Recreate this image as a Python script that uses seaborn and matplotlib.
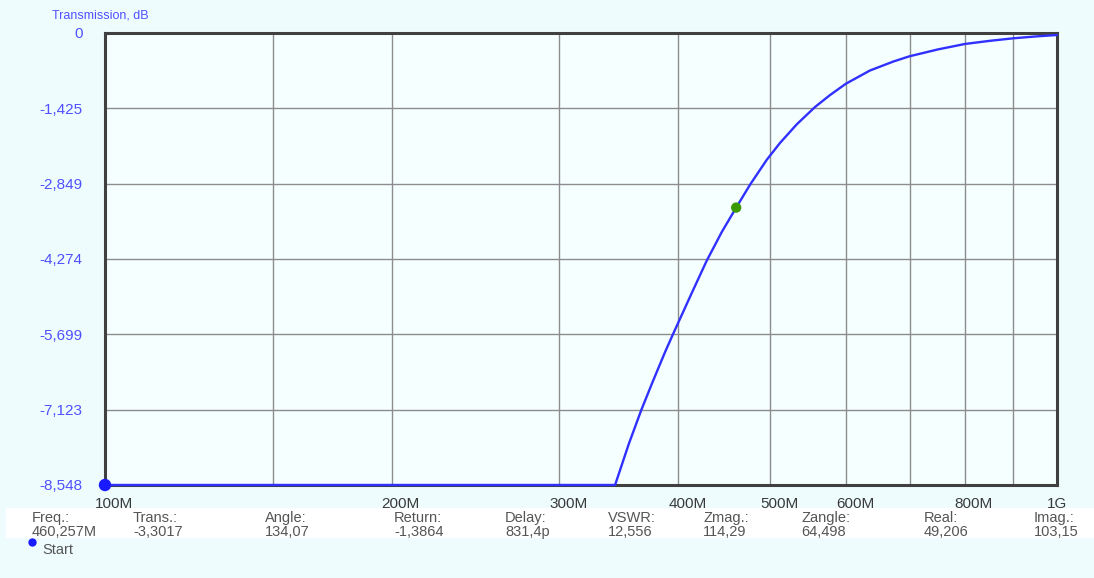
import numpy as np
import pandas as pd
import matplotlib
matplotlib.use("Agg")
import matplotlib.pyplot as plt
import matplotlib.transforms as mtransforms
from matplotlib.patches import Rectangle
from matplotlib.lines import Line2D
from matplotlib.ticker import FixedLocator, FixedFormatter, NullLocator
import seaborn as sns

# Transmission sweep (frequency in MHz, transmission in dB, floored at the lower plot limit)
freq_mhz = [100, 343.4, 355, 366, 376, 387.6, 395.4, 413.3, 428.5, 444.3,
            460.257, 475.9, 495.5, 511.7, 532.7, 556.9, 577.4, 600, 636, 673,
            700, 750, 800, 850, 900, 950, 1000]
trans_db = [-8.548, -8.548, -7.77, -7.123, -6.60, -6.03, -5.68, -4.92, -4.31,
            -3.77, -3.3017, -2.87, -2.40, -2.08, -1.73, -1.40, -1.175, -0.96,
            -0.71, -0.54, -0.44, -0.31, -0.208, -0.148, -0.10, -0.065, -0.038]

# Cursor position
marker_freq = 460.257
marker_trans = -3.3017

# Axis ticks
y_ticks = [0, -1.425, -2.849, -4.274, -5.699, -7.123, -8.548]
x_grid = [100, 150, 200, 300, 400, 500, 600, 700, 800, 900, 1000]
x_labels = ["100M", "", "200M", "300M", "400M", "500M", "600M", "", "800M", "", "1G"]

# Cursor readout
readout_names = ["Freq.:", "Trans.:", "Angle:", "Return:", "Delay:", "VSWR:",
                 "Zmag.:", "Zangle:", "Real:", "Imag.:"]
readout_values = ["460,257M", "-3,3017", "134,07", "-1,3864", "831,4p", "12,556",
                  "114,29", "64,498", "49,206", "103,15"]
readout_x = [32, 133, 265, 394, 505, 608, 703, 801, 924, 1034]

BG = "#eefcfd"
PLOT_BG = "#f6ffff"
BLUE_TXT = "#5050ff"
CURVE = "#3030ff"

sns.set_theme(style="white")
plt.rcParams["font.family"] = ["Liberation Sans", "DejaVu Sans"]

W, H = 1094, 578
fig = plt.figure(figsize=(W / 100, H / 100), dpi=100, facecolor=BG)
ax = fig.add_axes([105 / W, 1 - 485 / H, (1057 - 105) / W, (485 - 33) / H])
ax.set_facecolor(PLOT_BG)

df = pd.DataFrame({"freq": freq_mhz, "trans": trans_db})
sns.lineplot(data=df, x="freq", y="trans", ax=ax, color=CURVE, linewidth=1.7,
             zorder=4, clip_on=False)
sns.scatterplot(x=[marker_freq], y=[marker_trans], ax=ax, color="#3a9a00",
                s=55, edgecolor="none", zorder=5)
sns.scatterplot(x=[freq_mhz[0]], y=[trans_db[0]], ax=ax, color="#1a1aff",
                s=80, edgecolor="none", zorder=6, clip_on=False)

ax.set_xscale("log")
ax.set_xlim(100, 1000)
ax.set_ylim(y_ticks[-1], y_ticks[0])
ax.xaxis.set_major_locator(FixedLocator(x_grid))
ax.xaxis.set_major_formatter(FixedFormatter(x_labels))
ax.xaxis.set_minor_locator(NullLocator())
ax.set_yticks(y_ticks)
ax.set_yticklabels(["0" if v == 0 else f"{v:.3f}".replace(".", ",") for v in y_ticks])
ax.set_xlabel("")
ax.set_ylabel("")

ax.grid(True, color="#8c8c8c", linewidth=1)
ax.set_axisbelow(True)
ax.tick_params(axis="x", length=0, pad=9, labelsize=11, labelcolor="#3a3a3a")
ax.tick_params(axis="y", length=0, pad=16, labelsize=11, labelcolor=BLUE_TXT)

offset = mtransforms.ScaledTranslation(-10 / 100, 0, fig.dpi_scale_trans)
for lbl in ax.get_xticklabels():
    lbl.set_horizontalalignment("left")
    lbl.set_transform(lbl.get_transform() + offset)

for s in ax.spines.values():
    s.set_visible(True)
    s.set_color("#404040")
    s.set_linewidth(2.2)

fig.text(52 / W, 1 - 18 / H, "Transmission, dB", color=BLUE_TXT, fontsize=9,
         va="baseline")

# Readout band
fig.add_artist(Rectangle((6 / W, 1 - 538 / H), 1, 30 / H, transform=fig.transFigure,
                         facecolor="white", edgecolor="none", zorder=1))
for name, value, x in zip(readout_names, readout_values, readout_x):
    fig.text(x / W, 1 - 522 / H, name, fontsize=10.5, color="#555555", va="baseline")
    fig.text(x / W, 1 - 536 / H, value, fontsize=10.5, color="#555555", va="baseline")

fig.add_artist(Line2D([31.6 / W], [1 - 542 / H], marker="o", color="#1a1aff",
                      markersize=5, linestyle="none", transform=fig.transFigure))
fig.text(42 / W, 1 - 554 / H, "Start", fontsize=10.5, color="#555555", va="baseline")

fig.savefig("out.png", dpi=100, facecolor=BG)
